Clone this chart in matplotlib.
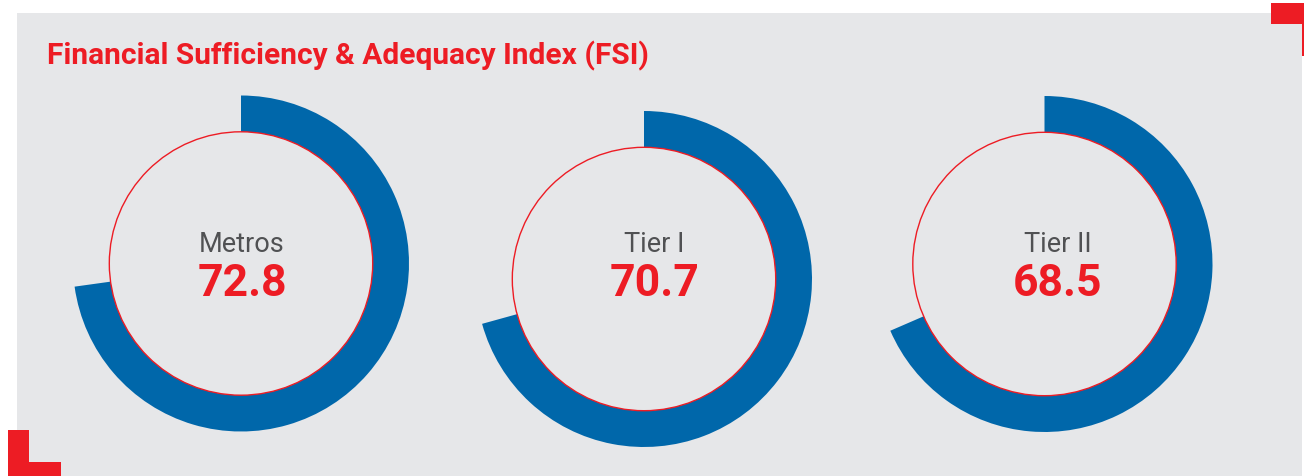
import matplotlib
matplotlib.use("Agg")
import matplotlib.pyplot as plt
from matplotlib.patches import Rectangle, Circle

# ---- data ----
categories = ["Metros", "Tier I", "Tier II"]
values = [72.8, 70.7, 68.5]
value_labels = ["72.8", "70.7", "68.5"]
title = "Financial Sufficiency & Adequacy Index (FSI)"

# ---- style / layout ----
W, H = 1304, 477
BG = "#E6E7E9"
BLUE = "#0067AA"
RED = "#ED1C24"
GREY_TXT = "#505153"
centers = [(241, 264.5), (644, 280), (1044.5, 265)]   # pixel coords (y down)
text_x = [242, 654.5, 1057.5]
R_OUT, R_IN = 168, 131.7

fig = plt.figure(figsize=(W / 100, H / 100), dpi=100)
fig.patch.set_facecolor("white")
ax = fig.add_axes([0, 0, 1, 1])

def Y(y):
    return H - y

# panel
ax.add_patch(Rectangle((17, Y(477)), 1304 - 17 - 2, 477 - 14, facecolor=BG, edgecolor="none", zorder=0))
# corner brackets
ax.add_patch(Rectangle((1271, Y(25)), 33, 21, facecolor=RED, edgecolor="none", zorder=1))
ax.add_patch(Rectangle((1302, Y(57)), 2, 32, facecolor=RED, edgecolor="none", zorder=1))
ax.add_patch(Rectangle((8, Y(477)), 21, 46, facecolor=RED, edgecolor="none", zorder=1))
ax.add_patch(Rectangle((8, Y(477)), 53, 14, facecolor=RED, edgecolor="none", zorder=1))

for (cx, cy), v, cat, lab, tx in zip(centers, values, categories, value_labels, text_x):
    ax.pie([v, 100 - v], startangle=90, counterclock=False, radius=R_OUT,
           center=(cx, Y(cy)), colors=[BLUE, "none"],
           wedgeprops=dict(width=R_OUT - R_IN, edgecolor="none", linewidth=0))
    ax.add_patch(Circle((cx, Y(cy)), R_IN, facecolor="none", edgecolor=RED, linewidth=1.0, zorder=5))
    ax.text(tx, Y(252.5), cat, ha="center", va="baseline", fontsize=19.5,
            fontfamily=["Roboto", "DejaVu Sans"], fontweight="normal", color=GREY_TXT, zorder=6)
    ax.text(tx, Y(296.5), lab, ha="center", va="baseline", fontsize=32,
            fontfamily=["Roboto", "DejaVu Sans"], fontweight="bold", color=RED, zorder=6)

ax.text(47, Y(64), title, ha="left", va="baseline", fontsize=21.5,
        fontfamily=["Roboto", "DejaVu Sans"], fontweight="bold", color=RED, zorder=6)

ax.set_xlim(0, W)
ax.set_ylim(0, H)
ax.set_aspect("auto")
ax.axis("off")

fig.savefig("out.png", dpi=100, facecolor="white")
